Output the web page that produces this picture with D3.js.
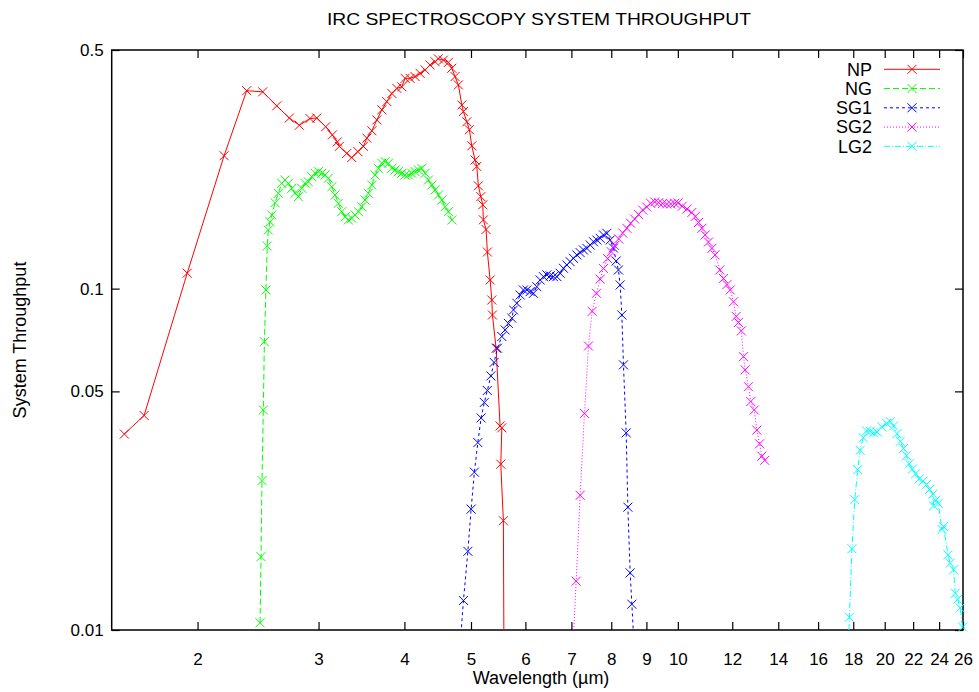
<!DOCTYPE html>
<html><head><meta charset="utf-8">
<script src="https://cdn.jsdelivr.net/npm/d3@7"></script>
<style>
body{margin:0;background:#fff}
text{font-family:"Liberation Sans",Arial,sans-serif;fill:#000}
</style>
</head><body>
<svg id="chart" width="979" height="692"></svg>
<script>
const chartTitle = "IRC SPECTROSCOPY SYSTEM THROUGHPUT";
const xLabel = "Wavelength (\u00b5m)";
const yLabel = "System Throughput";
const xTickValues = [2,3,4,5,6,7,8,9,10,12,14,16,18,20,22,24,26];
const yTickValues = [0.01,0.05,0.1,0.5];
const yTickLabels = ["0.01","0.05","0.1","0.5"];
const seriesNames = ["NP","NG","SG1","SG2","LG2"];

const npWave = [1.565,1.672,1.932,2.186,2.358,2.488,2.608,2.720,2.813,2.915,2.982,3.073,3.142,3.195,3.217,3.298,3.353,3.422,3.486,3.527,3.587,3.647,3.709,3.771,3.835,3.899,3.965,4.009,4.077,4.146,4.216,4.287,4.359,4.433,4.482,4.558,4.635,4.688,4.740,4.793,4.849,4.874,4.930,4.973,5.013,5.069,5.098,5.125,5.167,5.201,5.212,5.259,5.282,5.331,5.361,5.372,5.439,5.512,5.544,5.525,5.573,5.59];
const npThroughput = [0.0375,0.0425,0.111,0.245,0.380,0.377,0.343,0.316,0.301,0.315,0.316,0.298,0.282,0.269,0.261,0.249,0.242,0.252,0.261,0.276,0.290,0.312,0.334,0.353,0.373,0.386,0.390,0.413,0.413,0.418,0.427,0.437,0.452,0.462,0.471,0.467,0.460,0.442,0.418,0.395,0.345,0.330,0.308,0.292,0.262,0.238,0.228,0.200,0.186,0.176,0.159,0.149,0.128,0.106,0.0926,0.0837,0.0669,0.0396,0.0391,0.0306,0.0209,0.005];

const ngWave = [2.466,2.474,2.482,2.493,2.502,2.515,2.526,2.535,2.550,2.565,2.593,2.622,2.652,2.681,2.711,2.743,2.773,2.804,2.836,2.867,2.899,2.933,2.965,2.998,3.032,3.066,3.100,3.136,3.171,3.206,3.242,3.279,3.315,3.353,3.391,3.429,3.468,3.506,3.545,3.586,3.626,3.666,3.708,3.750,3.792,3.835,3.877,3.920,3.965,4.010,4.054,4.100,4.146,4.192,4.240,4.288,4.336,4.385,4.434,4.483,4.535,4.585,4.636,4.689];
const ngThroughput = [0.0105,0.0164,0.0274,0.0441,0.0699,0.0991,0.1333,0.1485,0.157,0.1643,0.1785,0.1902,0.2034,0.208,0.2034,0.1967,0.1902,0.1859,0.1967,0.2034,0.2056,0.2128,0.2177,0.2201,0.2177,0.2152,0.2105,0.1988,0.188,0.1778,0.168,0.1624,0.1589,0.1607,0.1643,0.168,0.1738,0.1818,0.1902,0.2011,0.2152,0.2251,0.2329,0.2354,0.2329,0.2251,0.2226,0.2201,0.2177,0.2152,0.2152,0.2177,0.2201,0.2226,0.2251,0.2177,0.208,0.2011,0.1945,0.188,0.1818,0.1738,0.168,0.1589];

const sg1Wave = [4.80,4.875,4.948,5.002,5.057,5.116,5.172,5.228,5.281,5.344,5.403,5.463,5.544,5.606,5.668,5.733,5.765,5.830,5.895,5.960,6.029,6.096,6.164,6.234,6.304,6.374,6.447,6.519,6.591,6.667,6.741,6.816,6.894,6.971,7.048,7.128,7.208,7.288,7.372,7.454,7.537,7.623,7.708,7.794,7.883,7.971,8.059,8.132,8.195,8.242,8.289,8.334,8.410,8.458,8.523,8.572,8.66];
const sg1Throughput = [0.008,0.0122,0.0170,0.0226,0.0290,0.0354,0.0418,0.0464,0.0503,0.0555,0.0608,0.0669,0.0724,0.0757,0.0791,0.0819,0.0866,0.0906,0.0958,0.0991,0.0991,0.0980,0.0969,0.1013,0.1060,0.1084,0.1097,0.1090,0.1084,0.1084,0.1109,0.1147,0.1173,0.1199,0.1227,0.1255,0.1275,0.1298,0.1312,0.1342,0.1372,0.1388,0.1404,0.1436,0.1452,0.1388,0.1315,0.1205,0.1134,0.1025,0.0837,0.0598,0.0378,0.0229,0.0147,0.0119,0.008];

const sg2Wave = [7.02,7.112,7.208,7.313,7.411,7.504,7.613,7.708,7.794,7.904,7.998,8.092,8.201,8.311,8.430,8.537,8.652,8.769,8.888,9.008,9.129,9.253,9.377,9.504,9.632,9.763,9.894,10.01,10.15,10.31,10.48,10.60,10.72,10.84,10.96,11.08,11.21,11.33,11.51,11.65,11.79,11.92,12.05,12.16,12.25,12.37,12.46,12.53,12.67,12.77,12.92,13.03,13.15,13.25,13.38];
const sg2Throughput = [0.008,0.0139,0.0248,0.0431,0.0679,0.0858,0.0969,0.1066,0.1146,0.1224,0.1283,0.1337,0.1398,0.1455,0.1502,0.1554,0.1599,0.1648,0.1699,0.1734,0.1778,0.1794,0.1785,0.1776,0.177,0.177,0.1778,0.1782,0.1743,0.1711,0.1671,0.1627,0.1562,0.1502,0.1436,0.1369,0.1312,0.1255,0.1134,0.1071,0.1028,0.0991,0.0915,0.0829,0.0796,0.0752,0.0632,0.0578,0.0516,0.0467,0.0441,0.0385,0.0351,0.0323,0.0314];

const lg2Wave = [17.69,17.77,17.92,18.09,18.27,18.42,18.61,18.82,19.05,19.26,19.50,19.81,20.13,20.37,20.60,20.84,21.07,21.30,21.51,21.71,21.94,22.19,22.45,22.72,23.01,23.24,23.50,23.56,23.73,23.93,24.23,24.36,24.72,24.91,25.19,25.33,25.53,25.76,25.96];
const lg2Throughput = [0.008,0.0109,0.0173,0.0241,0.0295,0.0336,0.0366,0.0383,0.0382,0.0378,0.038,0.0394,0.0403,0.0408,0.0396,0.0376,0.0357,0.034,0.0324,0.0307,0.0296,0.0287,0.0277,0.0273,0.0267,0.0258,0.025,0.0231,0.024,0.0235,0.0197,0.0201,0.0166,0.0157,0.015,0.0128,0.0123,0.0116,0.0102];

const seriesColors = ["#ff0000","#00ff00","#0000ff","#ff00ff","#00ffff"];
const seriesDash = [null,"6,3","3,3","1,2","6,2,1,2"];
const seriesWave = [npWave,ngWave,sg1Wave,sg2Wave,lg2Wave];
const seriesThroughput = [npThroughput,ngThroughput,sg1Throughput,sg2Throughput,lg2Throughput];

const L = 111.7, R = 963, T = 50, B = 630;
const svg = d3.select("#chart");
const x = d3.scaleLog().domain([1.5,26]).range([L,R]);
const y = d3.scaleLog().domain([0.01,0.5]).range([B,T]);

svg.append("defs").append("clipPath").attr("id","plotclip")
  .append("rect").attr("x",L).attr("y",T).attr("width",R-L).attr("height",B-T);

const fs = 17;
const gB = svg.append("g").attr("transform",`translate(0,${B})`)
  .call(d3.axisBottom(x).tickValues(xTickValues).tickFormat(d3.format("d")).tickSize(-8).tickPadding(23));
const gT = svg.append("g").attr("transform",`translate(0,${T})`)
  .call(d3.axisTop(x).tickValues(xTickValues).tickFormat("").tickSize(-8));
const gL = svg.append("g").attr("transform",`translate(${L},0)`)
  .call(d3.axisLeft(y).tickValues(yTickValues).tickFormat(d=>yTickLabels[yTickValues.indexOf(d)]).tickSize(-8).tickPadding(8));
const gR = svg.append("g").attr("transform",`translate(${R},0)`)
  .call(d3.axisRight(y).tickValues(yTickValues).tickFormat("").tickSize(-8));
[gB,gT,gL,gR].forEach(g=>{
  g.select(".domain").remove();
  g.selectAll(".tick line").attr("stroke","#000").attr("stroke-width",1.2);
  g.selectAll(".tick text").attr("font-size",fs).attr("font-family","Liberation Sans, Arial, sans-serif").attr("fill","#000");
});

svg.append("rect").attr("x",L).attr("y",T).attr("width",R-L).attr("height",B-T)
  .attr("fill","none").attr("stroke","#000").attr("stroke-width",1.5);

const plot = svg.append("g");
const marker = "M-4.5,-4.5L4.5,4.5M-4.5,4.5L4.5,-4.5";
seriesNames.forEach((name,i)=>{
  const pts = seriesWave[i].map((w,j)=>[w,seriesThroughput[i][j]]);
  const line = d3.line().x(d=>x(d[0])).y(d=>y(d[1]));
  plot.append("path").attr("d",line(pts)).attr("fill","none")
    .attr("stroke",seriesColors[i]).attr("stroke-width",1)
    .attr("stroke-dasharray",seriesDash[i]).attr("clip-path","url(#plotclip)");
  plot.append("g").selectAll("path").data(pts.filter(d=>d[1]>=0.01 && d[0]>=1.5 && d[0]<=26)).join("path")
    .attr("transform",d=>`translate(${x(d[0])},${y(d[1])})`)
    .attr("d",marker).attr("stroke",seriesColors[i]).attr("stroke-width",1).attr("fill","none");
});

const lg = svg.append("g");
seriesNames.forEach((name,i)=>{
  const cy = 69.3 + 19.25*i;
  lg.append("text").attr("x",872).attr("y",cy).attr("dy","0.35em").attr("text-anchor","end")
    .attr("font-size",18).text(name);
  lg.append("line").attr("x1",884).attr("x2",940).attr("y1",cy).attr("y2",cy)
    .attr("stroke",seriesColors[i]).attr("stroke-width",1).attr("stroke-dasharray",seriesDash[i]);
  lg.append("path").attr("transform",`translate(912,${cy})`).attr("d",marker)
    .attr("stroke",seriesColors[i]).attr("stroke-width",1).attr("fill","none");
});

svg.append("text").attr("x",539).attr("y",25).attr("text-anchor","middle").attr("font-size",17)
  .attr("textLength",424).attr("lengthAdjust","spacingAndGlyphs").text(chartTitle);
svg.append("text").attr("x",541).attr("y",684).attr("text-anchor","middle").attr("font-size",18).text(xLabel);
svg.append("text").attr("transform","translate(26,340) rotate(-90)").attr("text-anchor","middle").attr("font-size",18).text(yLabel);
</script>
</body></html>
